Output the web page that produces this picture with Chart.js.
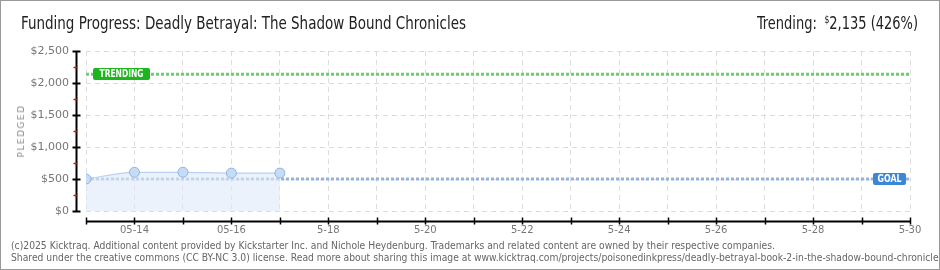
<!DOCTYPE html>
<html><head><meta charset="utf-8">
<script src="https://cdn.jsdelivr.net/npm/chart.js@4/dist/chart.umd.min.js"></script>
<style>
html,body{margin:0;padding:0;background:#fff;}
#wrap{position:relative;width:940px;height:270px;box-sizing:border-box;border:1px solid #999;overflow:hidden;}
#c{position:absolute;left:0;top:0;}
.t{position:absolute;white-space:nowrap;font-family:"Liberation Sans Narrow","DejaVu Sans Condensed",sans-serif;transform-origin:0 0;}
#title{left:20px;top:12px;font-size:17px;color:#222;}
#trend{left:756px;top:12px;font-size:17px;color:#222;}
#trend sup{font-size:10px;vertical-align:6px;margin-left:4px;}
#f1{left:10px;top:239px;font-size:10px;color:#666;font-family:"DejaVu Sans Condensed","DejaVu Sans",sans-serif;}
#f2{left:10px;top:251px;font-size:10px;color:#666;font-family:"DejaVu Sans Condensed","DejaVu Sans",sans-serif;}
#ylab{left:20px;top:130px;font-family:"DejaVu Sans",sans-serif;font-size:9px;color:#888;letter-spacing:1.5px;transform-origin:50% 50%;transform:translate(-50%,-50%) rotate(-90deg);}
</style></head>
<body>
<div id="wrap">
<canvas id="c" width="940" height="270"></canvas>
<div class="t" id="title">Funding Progress: Deadly Betrayal: The Shadow Bound Chronicles</div>
<div class="t" id="trend">Trending: <sup>$</sup>2,135 (426%)</div>
<div class="t" id="ylab">PLEDGED</div>
<div class="t" id="f1">(c)2025 Kicktraq. Additional content provided by Kickstarter Inc. and Nichole Heydenburg. Trademarks and related content are owned by their respective companies.</div>
<div class="t" id="f2">Shared under the creative commons (CC BY-NC 3.0) license. Read more about sharing this image at www.kicktraq.com/projects/poisonedinkpress/deadly-betrayal-book-2-in-the-shadow-bound-chronicles/</div>
</div>
<script>
// ---- data ----
const dates = ['5-13','5-14','5-15','5-16','5-17','5-18','5-19','5-20','5-21','5-22','5-23','5-24','5-25','5-26','5-27','5-28','5-29','5-30'];
const xTickLabels = ['','05-14','','05-16','','5-18','','5-20','','5-22','','5-24','','5-26','','5-28','','5-30'];
const pledged = [500, 605, 605, 592, 592];
const goalValue = 500;
const trendingValue = 2135;
const yMax = 2500;
const yStep = 500;

// fit header/footer text widths
function fitX(id, w){ const el=document.getElementById(id); const r=el.getBoundingClientRect().width; el.style.transform='scaleX('+(w/r)+')'; return w/r; }
fitX('title', 445);
fitX('trend', 161);
const fs = fitX('f1', 764);
document.getElementById('f2').style.transform='scaleX('+fs+')';

const lastIdx = dates.length - 1;
const pledgedPts = pledged.map((v,i)=>({x:i,y:v}));
const goalPts = [{x:0,y:goalValue},{x:lastIdx,y:goalValue}];
const trendPts = [{x:0,y:trendingValue},{x:lastIdx,y:trendingValue}];

const axisPlugin = {
  id:'axes',
  afterDraw(chart){
    const ctx = chart.ctx, xs = chart.scales.x, ys = chart.scales.y, ca = chart.chartArea;
    ctx.save();
    // y axis line
    const ax = ca.left - 9.5;
    ctx.strokeStyle = '#000'; ctx.lineWidth = 2;
    ctx.beginPath(); ctx.moveTo(ax, ys.getPixelForValue(yMax)); ctx.lineTo(ax, ys.getPixelForValue(0)+1); ctx.stroke();
    for(let v=0; v<=yMax; v+=yStep/2){
      const y = Math.round(ys.getPixelForValue(v))+0.5;
      ctx.beginPath();
      if(v % yStep === 0){ ctx.strokeStyle='#000'; ctx.lineWidth=2; ctx.moveTo(ax-4,y); ctx.lineTo(ax+4,y); }
      else { ctx.strokeStyle='#e00'; ctx.lineWidth=1.5; ctx.moveTo(ax-3,y); ctx.lineTo(ax+1,y); }
      ctx.stroke();
    }
    // x axis line
    const ay = ca.bottom + 10.5;
    ctx.strokeStyle='#000'; ctx.lineWidth=2;
    ctx.beginPath(); ctx.moveTo(xs.getPixelForValue(0), ay); ctx.lineTo(xs.getPixelForValue(lastIdx), ay); ctx.stroke();
    ctx.lineWidth=1.5;
    for(let i=0;i<=lastIdx;i++){
      const x = Math.round(xs.getPixelForValue(i))+0.5;
      ctx.beginPath(); ctx.moveTo(x, ay-4); ctx.lineTo(x, ay+3); ctx.stroke();
    }
    // label boxes
    function box(text, x, yc, w, tw, color){
      const h = 12, y = Math.round(yc - h/2);
      ctx.fillStyle = color;
      ctx.beginPath();
      ctx.roundRect(x, y, w, h, 2);
      ctx.fill();
      ctx.fillStyle = '#fff';
      ctx.font = 'bold 10px "DejaVu Sans", sans-serif';
      ctx.textBaseline = 'middle'; ctx.textAlign = 'center';
      ctx.fillText(text, x + w/2, y + h/2 + 0.5, tw);
    }
    box('TRENDING', ca.left + 7, ys.getPixelForValue(trendingValue), 57, 44, '#1db41d');
    box('GOAL', ca.right - 37, ys.getPixelForValue(goalValue), 33, 24, '#3b87d6');
    ctx.restore();
  }
};

new Chart(document.getElementById('c'), {
  type:'line',
  data:{
    datasets:[
      {label:'Pledged', data:pledgedPts, order:0, fill:'origin',
       backgroundColor:'rgba(222,234,250,0.6)', borderColor:'#b9d2ef', borderWidth:1.2,
       cubicInterpolationMode:'monotone',
       pointRadius:5, pointBackgroundColor:'#c6dcf6', pointBorderColor:'#8fb3de', pointBorderWidth:1},
      {label:'Goal', data:goalPts, order:1, borderColor:'#93b4dc', borderWidth:3, borderDash:[3,2], pointRadius:0, fill:false},
      {label:'Trending', data:trendPts, order:2, borderColor:'#6fcc6f', borderWidth:3, borderDash:[3,2], pointRadius:0, fill:false}
    ]
  },
  options:{
    responsive:false, animation:false, devicePixelRatio:1,
    layout:{padding:{left:0, right:31, top:50, bottom:0}},
    plugins:{legend:{display:false}, tooltip:{enabled:false}},
    scales:{
      x:{type:'linear', min:0, max:lastIdx,
         afterFit(s){ s.height = 60; },
         grid:{color:'#dddddd', drawTicks:false, lineWidth:1},
         border:{display:false, dash:[5,4]},
         ticks:{stepSize:1, autoSkip:false, maxRotation:0, padding:13,
                color:'#777', font:{family:'DejaVu Sans', size:10},
                callback:(v)=> xTickLabels[v] ?? ''}},
      y:{min:0, max:yMax,
         afterFit(s){ s.width = 85; },
         grid:{color:'#dddddd', drawTicks:false, lineWidth:1},
         border:{display:false, dash:[5,4]},
         ticks:{stepSize:yStep, padding:17, color:'#777', font:{family:'DejaVu Sans', size:11},
                callback:(v)=> '$' + v.toLocaleString('en-US')}}
    }
  },
  plugins:[axisPlugin]
});
</script>
</body></html>
